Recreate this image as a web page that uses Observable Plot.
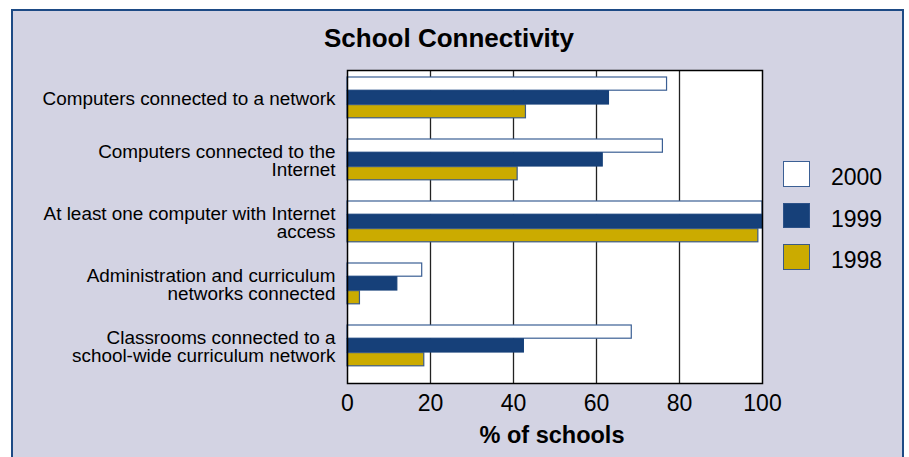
<!DOCTYPE html>
<html>
<head>
<meta charset="utf-8">
<script src="https://cdn.jsdelivr.net/npm/d3@7"></script>
<script src="https://cdn.jsdelivr.net/npm/@observablehq/plot@0.6"></script>
<style>
  html, body { margin: 0; padding: 0; background: #ffffff; width: 909px; height: 457px; overflow: hidden; }
  body { position: relative; font-family: "Liberation Sans", Arial, Helvetica, sans-serif; }
  #panel { position: absolute; left: 11px; top: 9px; width: 893px; height: 470px; box-sizing: border-box;
           background: #d3d3e3; border: 2.5px solid #1d4a85; border-bottom: none; }
  #title { position: absolute; left: 0; top: 25px; width: 898px; text-align: center; font-weight: bold;
           font-size: 26px; line-height: 26px; color: #000; }
  #chart { position: absolute; left: 0; top: 0; }
  #legend { position: absolute; left: 783px; top: 161px; }
  .item { position: relative; height: 26px; margin-bottom: 15.5px; }
  .sw { position: absolute; left: 0; top: 0; width: 27px; height: 25.5px; box-sizing: border-box; border: 1.5px solid #3b5f94; }
  .lab { position: absolute; left: 48px; top: 3px; font-size: 23px; line-height: 26px; color: #000; }
</style>
</head>
<body>
<div id="panel"></div>
<div id="title">School Connectivity</div>
<div id="chart"></div>
<div id="legend"></div>
<script>
const categories = [
  "Computers connected to a network",
  "Computers connected to the\nInternet",
  "At least one computer with Internet\naccess",
  "Administration and curriculum\nnetworks connected",
  "Classrooms connected to a\nschool-wide curriculum network"
];
const years = ["2000", "1999", "1998"];
const values2000 = [77, 76, 100, 18, 68.5];
const values1999 = [63, 61.5, 100, 12, 42.5];
const values1998 = [43, 41, 99, 3, 18.5];
const xTicks = [0, 20, 40, 60, 80, 100];
const gridTicks = [20, 40, 60, 80];
const xLabel = "% of schools";

const colors = {"2000": "#ffffff", "1999": "#164079", "1998": "#cbab00"};
const strokes = {"2000": "#3b5f94", "1999": "#164079", "1998": "#3b5a85"};

const series = {"2000": values2000, "1999": values1999, "1998": values1998};
const rows = [];
years.forEach(y => categories.forEach((c, i) => rows.push({year: y, category: c, value: series[y][i]})));

const band = 313 / categories.length;
const barH = 13.8;
const top0 = 5;

const barMarks = years.map((y, k) => Plot.barX(rows.filter(d => d.year === y), {
  x: "value", y: "category",
  fill: colors[y], stroke: strokes[y], strokeWidth: 1.2,
  insetTop: top0 + k * barH,
  insetBottom: band - (top0 + (k + 1) * barH)
}));

const chart = Plot.plot({
  width: 909,
  height: 457,
  marginLeft: 347,
  marginRight: 147,
  marginTop: 70,
  marginBottom: 74,
  style: {background: "transparent", fontFamily: "'Liberation Sans', Arial, sans-serif", color: "#000", overflow: "visible"},
  x: {domain: [0, 100]},
  y: {domain: categories, padding: 0},
  marks: [
    Plot.frame({fill: "white", stroke: null}),
    Plot.ruleX(gridTicks, {stroke: "#222", strokeWidth: 1.3}),
    ...barMarks,
    Plot.frame({stroke: "#000", strokeWidth: 1.5}),
    Plot.axisY({tickSize: 0, tickPadding: 12, fontSize: 18.9, lineHeight: 0.97, dy: -4.5, label: null}),
    Plot.axisX({ticks: xTicks, tickSize: 0, tickPadding: 11, fontSize: 23, label: null}),
    Plot.text([xLabel], {frameAnchor: "bottom", dy: 59, fontSize: 23.5, fontWeight: "bold", dx: -3})
  ]
});
document.getElementById("chart").appendChild(chart);

const legend = document.getElementById("legend");
years.forEach(y => {
  const item = document.createElement("div");
  item.className = "item";
  const sw = document.createElement("div");
  sw.className = "sw";
  sw.style.background = colors[y];
  if (y !== "2000") sw.style.borderColor = y === "1999" ? "#2c5188" : "#3b5a85";
  const lab = document.createElement("div");
  lab.className = "lab";
  lab.textContent = y;
  item.appendChild(sw);
  item.appendChild(lab);
  legend.appendChild(item);
});
</script>
</body>
</html>
